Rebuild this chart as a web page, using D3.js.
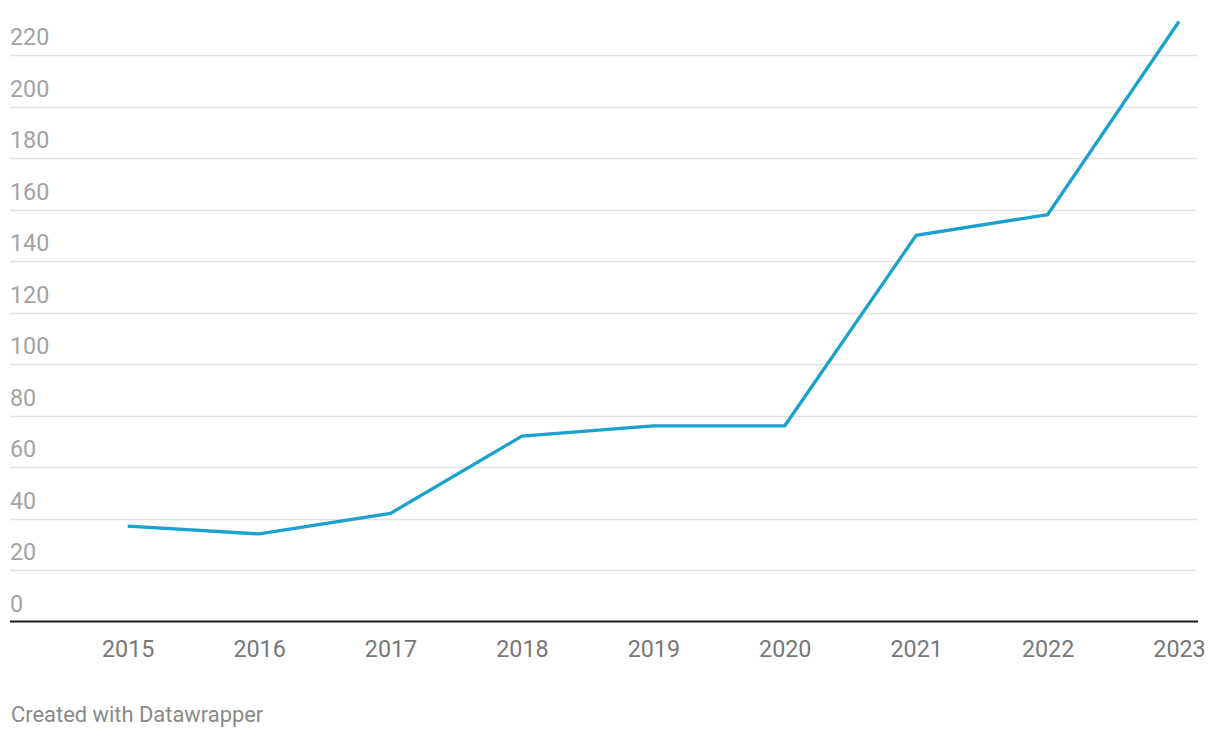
<!DOCTYPE html>
<html>
<head>
<meta charset="utf-8">
<script src="https://cdn.jsdelivr.net/npm/d3@7"></script>
<style>
  html, body { margin: 0; padding: 0; background: #fff; }
  svg { display: block; font-family: Roboto, "Noto Sans", sans-serif; }
</style>
</head>
<body>
<svg id="chart" width="1220" height="738"></svg>
<script>
const years = ["2015", "2016", "2017", "2018", "2019", "2020", "2021", "2022", "2023"];
const values = [37, 34, 42, 72, 76, 76, 150, 158, 233];
const yTicks = [0, 20, 40, 60, 80, 100, 120, 140, 160, 180, 200, 220];
const footerText = "Created with Datawrapper";

const svg = d3.select("#chart");
const left = 10, right = 1197;
const x = d3.scalePoint().domain(years).range([127.7, 1179]);
const y = d3.scaleLinear().domain([0, 220]).range([621.5, 55]);

// gridlines + labels
const grid = svg.append("g");
grid.selectAll("line").data(yTicks.filter(d => d > 0)).join("line")
  .attr("x1", left).attr("x2", right)
  .attr("y1", d => Math.round(y(d)) + 0.5).attr("y2", d => Math.round(y(d)) + 0.5)
  .attr("stroke", "#e2e2e2").attr("stroke-width", 1.5);
grid.selectAll("text").data(yTicks).join("text")
  .attr("x", left).attr("y", d => y(d) - 10)
  .attr("fill", "#a3a3a3").attr("font-size", 23.3)
  .text(d => d);

// baseline axis
svg.append("line")
  .attr("x1", left).attr("x2", right + 1)
  .attr("y1", y(0)).attr("y2", y(0))
  .attr("stroke", "#1a1a1a").attr("stroke-width", 2);

// x axis labels
const xAxis = d3.axisBottom(x).tickSize(0).tickPadding(0);
const gx = svg.append("g").attr("transform", `translate(0,${y(0)})`).call(xAxis);
gx.select(".domain").remove();
gx.selectAll("text")
  .attr("y", 35).attr("dy", 0)
  .attr("fill", "#777").attr("font-size", 23.3)
  .attr("font-family", "Roboto, 'Noto Sans', sans-serif");

// line
const line = d3.line().x((d, i) => x(years[i])).y(d => y(d));
svg.append("path").datum(values)
  .attr("d", line)
  .attr("fill", "none")
  .attr("stroke", "#1aa1cd")
  .attr("stroke-width", 3.3)
  .attr("stroke-linejoin", "miter");

// footer
svg.append("text").attr("x", 11).attr("y", 722)
  .attr("fill", "#8a8a8a").attr("font-size", 21.9)
  .text(footerText);
</script>
</body>
</html>
